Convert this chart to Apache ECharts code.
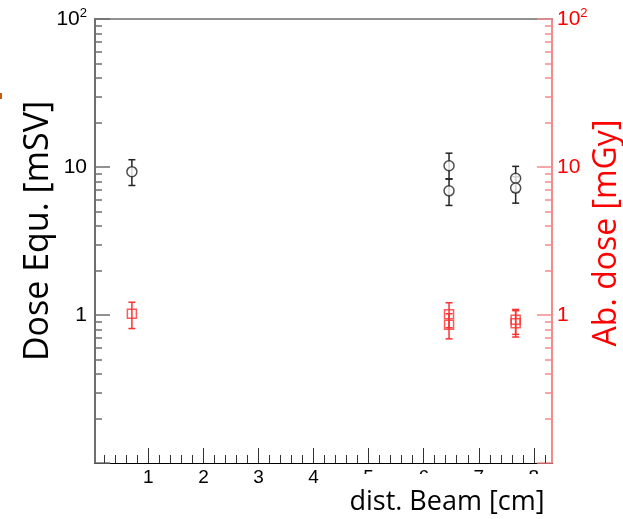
<!DOCTYPE html>
<html>
<head>
<meta charset="utf-8">
<script src="https://cdn.jsdelivr.net/npm/echarts@6/dist/echarts.min.js"></script>
<style>html,body{margin:0;padding:0;background:#fff;}#c{width:623px;height:519px;}</style>
</head>
<body>
<div id="c"></div>
<script>
// ---- data ----
const xPos = [0.7, 6.46, 6.46, 7.67, 7.67];
const doseEqu = [9.3, 10.2, 6.9, 8.4, 7.2];
const doseEquLow = [7.5, 8.3, 5.5, 6.8, 5.7];
const doseEquHigh = [11.2, 12.4, 8.3, 10.1, 8.6];
const abDose = [1.02, 1.01, 0.86, 0.93, 0.88];
const abDoseLow = [0.81, 0.82, 0.69, 0.74, 0.71];
const abDoseHigh = [1.22, 1.21, 1.02, 1.09, 1.07];
const xTickLabels = [1, 2, 3, 4, 5, 6, 7, 8];

const X_MIN = 0.03, X_MAX = 8.33;
const xMinor = [];
for (let i = 1; i <= 41; i++) { const v = +(i * 0.2).toFixed(1); if (Math.abs(v - Math.round(v)) > 1e-6) xMinor.push(v); }
const yMinorLog = [];
[0.1, 1, 10].forEach(d => { for (let k = 2; k <= 9; k++) yMinorLog.push(Math.log10(d * k)); });

const chart = echarts.init(document.getElementById('c'), null, {renderer: 'canvas'});

function yFmt(v) {
  if (Math.abs(v - 100) < 1e-6) return '10{sup|2}';
  if (Math.abs(v - 10) < 1e-6) return '10';
  if (Math.abs(v - 1) < 1e-6) return '1';
  return '';
}
const FONT = '"Liberation Sans", Arial, sans-serif';
const TITLE_FONT = '"Open Sans", "Noto Sans", sans-serif';
const LEFT_COL = '#6e6e6e', RIGHT_COL = '#f58a8a';

function errSeries(name, lo, hi, yIdx, color) {
  return {
    type: 'custom', name: name, xAxisIndex: 0, yAxisIndex: yIdx, z: 2,
    data: xPos.map((x, i) => [x, lo[i], hi[i]]),
    renderItem: function (params, api) {
      const top = api.coord([api.value(0), api.value(2)]);
      const bot = api.coord([api.value(0), api.value(1)]);
      const w = 3.5;
      return {
        type: 'group',
        children: [
          {type: 'line', shape: {x1: top[0], y1: top[1], x2: bot[0], y2: bot[1]}, style: {stroke: color, lineWidth: 1.5}},
          {type: 'line', shape: {x1: top[0] - w, y1: top[1], x2: top[0] + w, y2: top[1]}, style: {stroke: color, lineWidth: 1.5}},
          {type: 'line', shape: {x1: bot[0] - w, y1: bot[1], x2: bot[0] + w, y2: bot[1]}, style: {stroke: color, lineWidth: 1.5}}
        ]
      };
    }
  };
}

const option = {
  backgroundColor: '#fff',
  animation: false,
  grid: {left: 95, right: 71, top: 19, bottom: 56, containLabel: false},
  xAxis: [
    {type: 'value', min: X_MIN, max: X_MAX, position: 'bottom',
     axisLine: {show: true, onZero: false, lineStyle: {color: '#000', width: 1.2}},
     axisTick: {show: true, inside: true, length: 15, customValues: xTickLabels, lineStyle: {color: '#333', width: 1}},
     axisLabel: {show: true, customValues: xTickLabels, margin: 5, fontSize: 19, color: '#000', fontFamily: FONT},
     splitLine: {show: false}},
    {type: 'value', min: X_MIN, max: X_MAX, position: 'bottom',
     axisLine: {show: false, onZero: false},
     axisTick: {show: true, inside: true, length: 8, customValues: xMinor, lineStyle: {color: '#333', width: 1}},
     axisLabel: {show: false}, splitLine: {show: false}},
    {type: 'value', min: X_MIN, max: X_MAX, position: 'top',
     axisLine: {show: true, onZero: false, lineStyle: {color: LEFT_COL, width: 1.5}},
     axisTick: {show: false}, axisLabel: {show: false}, splitLine: {show: false}}
  ],
  yAxis: [
    {type: 'log', logBase: 10, min: 0.1, max: 100, position: 'left',
     axisLine: {show: true, onZero: false, lineStyle: {color: LEFT_COL, width: 2}},
     axisTick: {show: true, inside: true, length: 15, lineStyle: {color: LEFT_COL, width: 1.5}},
     axisLabel: {show: true, margin: 8, fontSize: 21, color: '#000', fontFamily: FONT, formatter: yFmt,
                 rich: {sup: {fontSize: 13, fontFamily: FONT, color: '#000', padding: [0, 0, 11, 0]}}},
     splitLine: {show: false}},
    {type: 'value', min: -1, max: 2, position: 'left',
     axisLine: {show: false, onZero: false},
     axisTick: {show: true, inside: true, length: 7, customValues: yMinorLog, lineStyle: {color: LEFT_COL, width: 1.5}},
     axisLabel: {show: false}, splitLine: {show: false}},
    {type: 'log', logBase: 10, min: 0.1, max: 100, position: 'right',
     axisLine: {show: true, onZero: false, lineStyle: {color: RIGHT_COL, width: 2}},
     axisTick: {show: true, inside: true, length: 15, lineStyle: {color: RIGHT_COL, width: 1.5}},
     axisLabel: {show: true, margin: 5, fontSize: 21, color: '#ff0000', fontFamily: FONT, formatter: yFmt,
                 rich: {sup: {fontSize: 13, fontFamily: FONT, color: '#ff0000', padding: [0, 0, 11, 0]}}},
     splitLine: {show: false}},
    {type: 'value', min: -1, max: 2, position: 'right',
     axisLine: {show: false, onZero: false},
     axisTick: {show: true, inside: true, length: 7, customValues: yMinorLog, lineStyle: {color: RIGHT_COL, width: 1.5}},
     axisLabel: {show: false}, splitLine: {show: false}}
  ],
  series: [
    errSeries('Dose Equ. err', doseEquLow, doseEquHigh, 0, '#222'),
    errSeries('Ab. dose err', abDoseLow, abDoseHigh, 2, '#ff3030'),
    {type: 'scatter', name: 'Dose Equ.', xAxisIndex: 0, yAxisIndex: 0, z: 3,
     symbol: 'circle', symbolSize: 10,
     itemStyle: {color: '#fff', borderColor: '#222', borderWidth: 1.5},
     data: xPos.map((x, i) => [x, doseEqu[i]])},
    {type: 'scatter', name: 'Ab. dose', xAxisIndex: 0, yAxisIndex: 2, z: 3,
     symbol: 'rect', symbolSize: 9,
     itemStyle: {color: 'rgba(255,255,255,0)', borderColor: '#ff3030', borderWidth: 1.5},
     data: xPos.map((x, i) => [x, abDose[i]])}
  ],
  graphic: [
    {type: 'rect', z: 100, shape: {x: 0, y: 93, width: 2, height: 6}, style: {fill: '#c55a11'}},
    {type: 'text', z: 100, x: 38, y: 231, rotation: Math.PI / 2,
     style: {text: 'Dose Equ. [mSV]', font: '34px ' + TITLE_FONT, fill: '#000', align: 'center', verticalAlign: 'middle'}},
    {type: 'text', z: 100, x: 607, y: 233, rotation: Math.PI / 2,
     style: {text: 'Ab. dose [mGy]', font: '32px ' + TITLE_FONT, fill: '#ff0000', align: 'center', verticalAlign: 'middle'}},
    {type: 'rect', z: 100, shape: {x: 340, y: 474, width: 220, height: 45}, style: {fill: '#fff'}},
    {type: 'text', z: 101, x: 447, y: 502,
     style: {text: 'dist. Beam [cm]', font: '27px ' + TITLE_FONT, fill: '#000', align: 'center', verticalAlign: 'middle'}}
  ]
};
chart.setOption(option);
</script>
</body>
</html>
